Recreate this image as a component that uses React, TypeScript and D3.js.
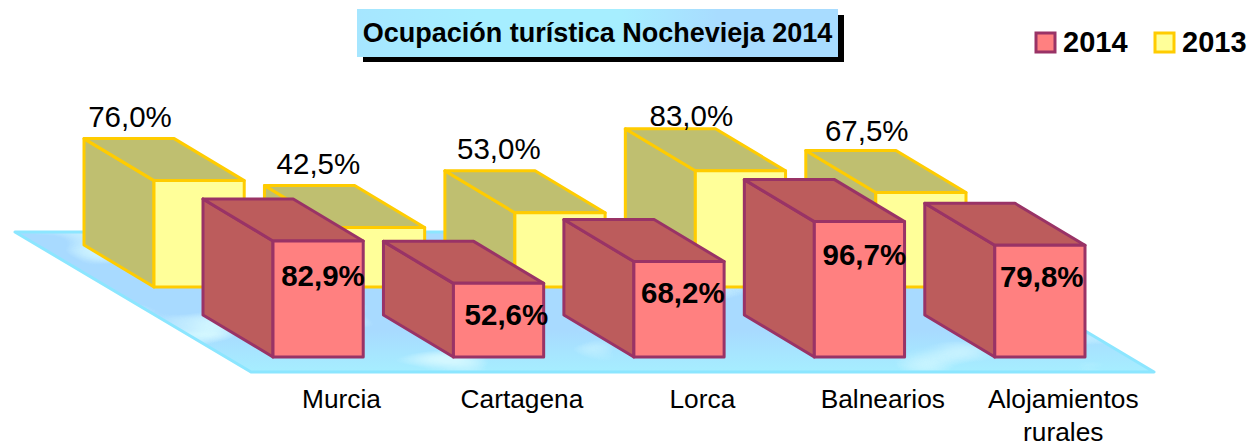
import * as d3 from "d3";

const categories = ["Murcia", "Cartagena", "Lorca", "Balnearios", "Alojamientos rurales"];
const values2014 = [82.9, 52.6, 68.2, 96.7, 79.8];
const values2013 = [76.0, 42.5, 53.0, 83.0, 67.5];
const legendItems = ["2014", "2013"];
const chartTitle = "Ocupación turística Nochevieja 2014";

const width = 1247;
const height = 443;
const font = "'Liberation Sans', Arial, sans-serif";

// oblique projection: going one row back moves the bar up and to the left
const depthX = -70;
const depthY = -42;
const barFront = 357;
const rowX = 119;
const rowY = 70;

// hand placed data labels, the original ones were dragged around a bit
const backLabelDx = [-24, -16, -16, -4, -9];
const backLabelDy = [-12, -12, -12, -3, -10];
const frontLabelDx = [50, 53, 49, 50, 47];
const frontLabelDy = [45, 42, 41, 43, 42];

const x = d3.scaleBand<string>().domain(categories).range([273, 1085]).paddingInner(0.5).paddingOuter(0);
const h = d3.scaleLinear().domain([0, 100]).range([0, 140]);
const pct = (v: number) => v.toFixed(1).replace(".", ",") + "%";

const palette = {
  front: { face: "#FF8080", side: "#BC5C5C", line: "#993366" },
  back: { face: "#FFFF99", side: "#BFBF70", line: "#FFCC00" },
};

function Bar({ left, bottom, value, colors }: any) {
  const w = x.bandwidth();
  const top = bottom - h(value);
  const side = d3.line()([
    [left, top],
    [left + depthX, top + depthY],
    [left + depthX, bottom + depthY],
    [left, bottom],
  ]) + "Z";
  const lid = d3.line()([
    [left, top],
    [left + depthX, top + depthY],
    [left + w + depthX, top + depthY],
    [left + w, top],
  ]) + "Z";
  return (
    <g stroke={colors.line} strokeWidth={3} strokeLinejoin="round">
      <path d={side} fill={colors.side} />
      <path d={lid} fill={colors.side} />
      <rect x={left} y={top} width={w} height={bottom - top} fill={colors.face} />
    </g>
  );
}

export default function App() {
  const floor = d3.line()([
    [15, 232],
    [919, 232],
    [1154, 372],
    [251, 372],
  ]) + "Z";

  return (
    <svg width={width} height={height} style={{ position: "absolute", left: 0, top: 0 }} fontFamily={font}>
      <defs>
        <linearGradient id="floorFill" gradientUnits="userSpaceOnUse" x1="0" y1="231" x2="0" y2="372">
          <stop offset="0.7" stopColor="#A8DAFF" />
          <stop offset="1" stopColor="#A6EEFF" />
        </linearGradient>
        <linearGradient id="titleFill" x1="0" y1="0" x2="1" y2="0">
          <stop offset="0" stopColor="#A6E6FF" />
          <stop offset="0.25" stopColor="#A6EEFF" />
          <stop offset="0.55" stopColor="#A6EEFF" />
          <stop offset="0.75" stopColor="#A8DCFF" />
          <stop offset="1" stopColor="#A8DCFF" />
        </linearGradient>
        <filter id="clouds" x="0" y="0" width="100%" height="100%">
          <feTurbulence type="fractalNoise" baseFrequency="0.008 0.03" numOctaves={2} seed={4} />
          <feColorMatrix values="0 0 0 0 0.651  0 0 0 0 0.933  0 0 0 0 1  5 0 0 0 -3" />
          <feComposite in2="SourceAlpha" operator="in" result="c" />
          <feMerge>
            <feMergeNode in="SourceGraphic" />
            <feMergeNode in="c" />
          </feMerge>
        </filter>
      </defs>

      <path d={floor} fill="url(#floorFill)" filter="url(#clouds)" />
      <path d={floor} fill="none" stroke="#8CE6FF" strokeWidth={3} strokeLinejoin="round" />

      {categories.map((c, i) => (
        <Bar key={c} left={(x(c) as number) - rowX} bottom={barFront - rowY} value={values2013[i]} colors={palette.back} />
      ))}
      {categories.map((c, i) => (
        <text
          key={c}
          x={(x(c) as number) - rowX + backLabelDx[i]}
          y={barFront - rowY - h(values2013[i]) + depthY + backLabelDy[i]}
          fontSize={29.5}
          textAnchor="middle"
        >
          {pct(values2013[i])}
        </text>
      ))}
      {categories.map((c, i) => (
        <Bar key={c} left={x(c) as number} bottom={barFront} value={values2014[i]} colors={palette.front} />
      ))}
      {categories.map((c, i) => (
        <text
          key={c}
          x={(x(c) as number) + frontLabelDx[i]}
          y={barFront - h(values2014[i]) + frontLabelDy[i]}
          fontSize={29.5}
          fontWeight="bold"
          textAnchor="middle"
        >
          {pct(values2014[i])}
        </text>
      ))}

      {categories.map((c) => {
        const words = c.split(" ");
        return (
          <text key={c} x={(x(c) as number) + 68.5} y={408} fontSize={26.3} textAnchor="middle">
            {words.map((w, j) => (
              <tspan key={w} x={(x(c) as number) + 68.5} dy={j ? 33 : 0}>
                {w}
              </tspan>
            ))}
          </text>
        );
      })}

      <rect x={363} y={15} width={481} height={47} fill="#000" />
      <rect x={357} y={9} width={481} height={48} fill="url(#titleFill)" />
      <text x={597.5} y={42} fontSize={27} fontWeight="bold" textAnchor="middle">
        {chartTitle}
      </text>

      {legendItems.map((item, i) => {
        const colors = i === 0 ? palette.front : palette.back;
        const lx = 1036 + i * 119;
        return (
          <g key={item}>
            <rect x={lx} y={33} width={19} height={19} fill={colors.face} stroke={colors.line} strokeWidth={3} />
            <text x={lx + 27} y={52} fontSize={29} fontWeight="bold">
              {item}
            </text>
          </g>
        );
      })}
    </svg>
  );
}
